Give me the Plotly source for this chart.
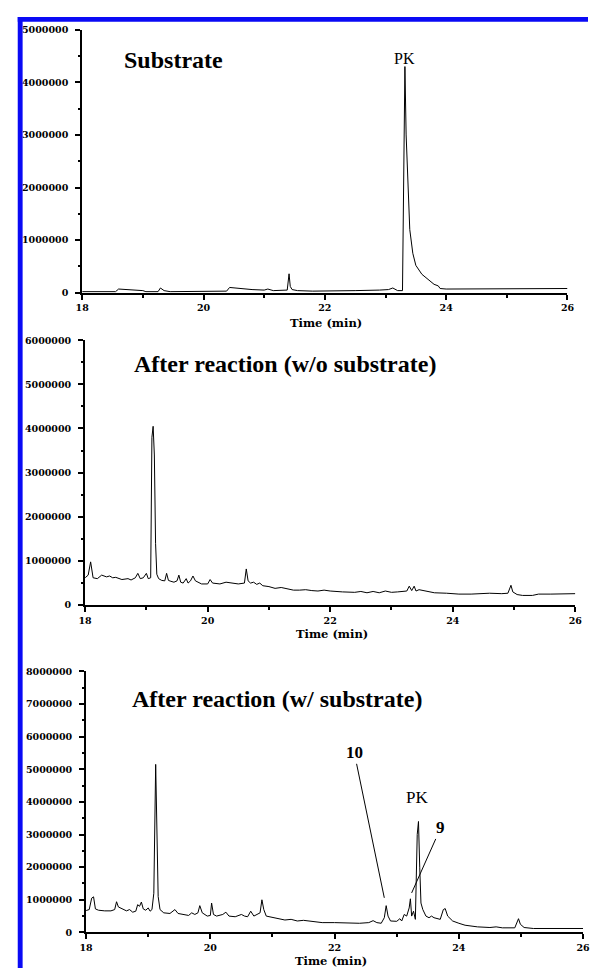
import plotly.graph_objects as go

# ---------------- data ----------------
t_sub = [18.0, 18.3, 18.55, 18.6, 18.8, 19.0, 19.05, 19.25, 19.29, 19.35, 19.45, 19.8, 20.2, 20.38, 20.43,
         20.6, 20.8, 21.0, 21.06, 21.15, 21.3, 21.38, 21.41, 21.43, 21.46, 21.55, 21.8, 22.0, 22.5,
         22.9, 23.05, 23.12, 23.2, 23.28, 23.3, 23.32, 23.34, 23.36, 23.38, 23.4, 23.45, 23.5, 23.6,
         23.7, 23.8, 23.87, 23.9, 24.0, 24.5, 25.0, 25.5, 26.0]
y_sub = [2e4, 2e4, 2e4, 7e4, 6e4, 4e4, 2e4, 2e4, 9e4, 4e4, 2e4, 2e4, 2e4, 3e4, 1.0e5,
         8e4, 6e4, 5e4, 7e4, 4e4, 4e4, 5e4, 3.6e5, 1.2e5, 6e4, 4e4, 3e4, 3e4, 4e4,
         5e4, 6e4, 9e4, 4e4, 4e4, 1.95e6, 4.3e6, 3.0e6, 2.3e6, 1.7e6, 1.2e6, 7.5e5, 5.2e5, 3.5e5,
         2.5e5, 1.6e5, 1.3e5, 8e4, 7e4, 7e4, 7e4, 8e4, 8e4]

t_wo = [18.0, 18.05, 18.09, 18.11, 18.13, 18.2, 18.27, 18.35, 18.4, 18.45, 18.5, 18.6, 18.7, 18.75,
        18.82, 18.86, 18.9, 18.95, 19.0, 19.03, 19.07, 19.09, 19.11, 19.13, 19.15, 19.17, 19.2,
        19.25, 19.3, 19.33, 19.36, 19.4, 19.45, 19.5, 19.53, 19.56, 19.6, 19.65, 19.68, 19.72,
        19.76, 19.8, 19.9, 20.0, 20.04, 20.08, 20.2, 20.3, 20.4, 20.5, 20.6, 20.63, 20.66, 20.7,
        20.75, 20.8, 20.85, 20.9, 21.0, 21.1, 21.2, 21.3, 21.4, 21.5, 21.6, 21.7, 21.8, 21.9,
        22.0, 22.2, 22.4, 22.5, 22.6, 22.7, 22.8, 22.9, 23.0, 23.1, 23.25, 23.29, 23.33, 23.37,
        23.4, 23.45, 23.55, 23.7, 23.9, 24.1, 24.3, 24.6, 24.8, 24.9, 24.95, 24.98, 25.05, 25.14,
        25.3, 25.4, 25.6, 25.8, 26.0]
y_wo = [6.2e5, 6.8e5, 9.8e5, 7.5e5, 6.2e5, 6.0e5, 6.8e5, 6.4e5, 6.6e5, 6.2e5, 6.3e5, 5.8e5, 6.0e5, 5.7e5,
        6.2e5, 7.2e5, 6.0e5, 6.2e5, 7.2e5, 6.0e5, 6.2e5, 3.8e6, 4.05e6, 3.4e6, 1.4e6, 7.0e5, 6.0e5,
        5.6e5, 5.5e5, 7.2e5, 5.6e5, 5.4e5, 5.2e5, 5.5e5, 6.8e5, 5.2e5, 5.0e5, 6.0e5, 5.0e5, 5.5e5,
        6.6e5, 5.5e5, 4.8e5, 4.8e5, 5.8e5, 5.0e5, 4.8e5, 5.2e5, 5.0e5, 4.8e5, 5.0e5, 8.2e5, 5.5e5, 5.0e5,
        5.2e5, 4.7e5, 5.0e5, 4.4e5, 4.2e5, 3.8e5, 4.0e5, 3.7e5, 3.4e5, 3.4e5, 3.5e5, 3.3e5, 3.2e5, 3.4e5,
        3.2e5, 3.0e5, 2.9e5, 3.1e5, 2.8e5, 3.1e5, 2.8e5, 3.2e5, 2.9e5, 3.0e5, 3.2e5, 4.3e5, 3.3e5, 4.3e5,
        3.2e5, 3.5e5, 3.2e5, 2.8e5, 2.7e5, 2.5e5, 2.5e5, 2.7e5, 2.6e5, 2.7e5, 4.5e5, 3.0e5, 2.4e5, 2.2e5,
        2.2e5, 2.5e5, 2.5e5, 2.5e5, 2.6e5]

t_w = [18.0, 18.05, 18.09, 18.12, 18.15, 18.2, 18.3, 18.4, 18.46, 18.49, 18.52, 18.56, 18.6, 18.65,
       18.7, 18.75, 18.8, 18.83, 18.86, 18.89, 18.92, 18.96, 19.0, 19.03, 19.06, 19.09, 19.12, 19.14,
       19.16, 19.19, 19.25, 19.35, 19.43, 19.48, 19.55, 19.65, 19.7, 19.75, 19.8, 19.83, 19.87, 19.95,
       20.0, 20.02, 20.05, 20.1, 20.2, 20.25, 20.3, 20.4, 20.5, 20.55, 20.6, 20.65, 20.7, 20.75, 20.8,
       20.83, 20.86, 20.9, 21.0, 21.1, 21.2, 21.3, 21.4, 21.5, 21.6, 21.8, 22.0, 22.2, 22.4, 22.55,
       22.62, 22.68, 22.75, 22.8, 22.83, 22.86, 22.9, 23.0, 23.05, 23.08, 23.12, 23.16, 23.2, 23.22,
       23.24, 23.27, 23.3, 23.33, 23.35, 23.37, 23.39, 23.42, 23.47, 23.52, 23.56, 23.6, 23.7, 23.75,
       23.78, 23.82, 23.9, 24.0, 24.1, 24.3, 24.5, 24.6, 24.7, 24.9, 24.94, 24.96, 24.99, 25.05,
       25.2, 25.5, 26.0]
y_w = [6.7e5, 7.0e5, 1.05e6, 1.09e6, 7.2e5, 6.8e5, 6.6e5, 6.6e5, 7.0e5, 9.4e5, 7.8e5, 7.5e5, 7.2e5, 6.6e5,
       7.0e5, 6.2e5, 6.5e5, 8.5e5, 8.0e5, 9.3e5, 7.2e5, 6.8e5, 7.5e5, 6.5e5, 7.0e5, 1.2e6, 5.15e6, 3.4e6,
       1.1e6, 7.0e5, 6.0e5, 5.8e5, 7.0e5, 5.8e5, 5.5e5, 5.2e5, 6.0e5, 5.5e5, 6.0e5, 8.2e5, 6.0e5, 5.0e5,
       5.2e5, 9.0e5, 5.5e5, 5.0e5, 5.5e5, 6.2e5, 5.0e5, 4.8e5, 5.5e5, 5.0e5, 4.8e5, 6.5e5, 5.0e5, 5.5e5, 6.0e5,
       1.0e6, 7.0e5, 5.0e5, 4.6e5, 4.2e5, 3.8e5, 4.0e5, 3.5e5, 3.7e5, 3.4e5, 3.0e5, 3.0e5, 2.9e5, 2.8e5, 3.0e5,
       3.6e5, 3.0e5, 2.8e5, 4.5e5, 8.2e5, 5.0e5, 3.5e5, 3.4e5, 4.2e5, 3.5e5, 5.5e5, 5.0e5, 7.5e5, 1.03e6,
       5.0e5, 6.5e5, 4.0e5, 3.0e6, 3.4e6, 2.0e6, 9.0e5, 7.0e5, 5.0e5, 4.5e5, 5.0e5, 4.5e5, 4.0e5, 7.0e5,
       7.3e5, 5.0e5, 3.5e5, 2.8e5, 2.2e5, 1.7e5, 1.5e5, 1.7e5, 1.4e5, 1.4e5, 3.0e5, 4.2e5, 2.5e5, 1.5e5,
       1.2e5, 1.2e5, 1.2e5]

panel_titles = ["Substrate", "After reaction (w/o substrate)", "After reaction (w/ substrate)"]
y_max = [5e6, 6e6, 8e6]
x_range = [18, 26]
x_title = "Time (min)"
# labelled peaks in the last panel: (label, time, intensity at line end)
peak10 = ("10", 22.80, 1.06e6)
peak9 = ("9", 23.24, 1.21e6)

# ---------------- layout helpers ----------------
W, H = 595, 973
def px(x):
    return x / W
def py(y):
    return 1 - y / H

domains = [
    ([px(77), px(574)], [py(290), py(24)]),
    ([px(80), px(582)], [py(606), py(338)]),
    ([px(81), px(590)], [py(937), py(673)]),
]

fig = go.Figure()
series = [(t_sub, y_sub), (t_wo, y_wo), (t_w, y_w)]
for i, (tx, ty) in enumerate(series):
    sfx = "" if i == 0 else str(i + 1)
    fig.add_trace(go.Scatter(x=tx, y=ty, mode="lines", xaxis="x" + sfx, yaxis="y" + sfx,
                             line=dict(color="black", width=1), showlegend=False,
                             hoverinfo="skip"))

tickfont = dict(family="DejaVu Serif", size=9.5, color="black", weight="bold")
layout = dict(width=W, height=H, margin=dict(l=0, r=0, t=0, b=0),
              paper_bgcolor="white", plot_bgcolor="white", showlegend=False)
for i, (xd, yd) in enumerate(domains):
    sfx = "" if i == 0 else str(i + 1)
    layout["xaxis" + sfx] = dict(domain=xd, anchor="y" + sfx, range=x_range, tick0=18, dtick=2,
                                 ticks="outside", ticklen=5, tickwidth=1.5, tickcolor="black",
                                 minor=dict(dtick=1, ticks="outside", ticklen=3, tickwidth=1.5,
                                            tickcolor="black"),
                                 showline=True, linewidth=2, linecolor="black",
                                 showgrid=False, zeroline=False, tickfont=tickfont)
    layout["yaxis" + sfx] = dict(domain=yd, anchor="x" + sfx, range=[0, y_max[i]], tick0=0,
                                 dtick=1e6, tickformat="d",
                                 ticks="outside", ticklen=5, tickwidth=1.5, tickcolor="black",
                                 minor=dict(dtick=5e5, ticks="outside", ticklen=2, tickwidth=1.5,
                                            tickcolor="black"),
                                 showline=True, linewidth=2, linecolor="black",
                                 showgrid=False, zeroline=False, tickfont=tickfont,
                                 ticklabelstandoff=5)
fig.update_layout(**layout)

serif = "Liberation Serif"
title_pos = [(171, 55), (285, 362), (276, 701)]
xtitle_pos = [(327, 321), (333, 635), (332, 966)]
ann = []
for (tx, ty), txt in zip(title_pos, panel_titles):
    ann.append(dict(x=px(tx), y=py(ty), xref="paper", yref="paper", text=txt, showarrow=False,
                    xanchor="center", yanchor="middle",
                    font=dict(family=serif, size=24, color="black", weight="bold")))
for tx, ty in xtitle_pos:
    ann.append(dict(x=px(tx), y=py(ty), xref="paper", yref="paper", text=x_title, showarrow=False,
                    xanchor="center", yanchor="middle",
                    font=dict(family="DejaVu Serif", size=11.5, color="black", weight="bold")))
# PK labels
ann.append(dict(x=px(407), y=py(53), xref="paper", yref="paper", text="PK", showarrow=False,
                xanchor="center", yanchor="middle", font=dict(family=serif, size=16, color="black")))
ann.append(dict(x=px(420), y=py(801), xref="paper", yref="paper", text="PK", showarrow=False,
                xanchor="center", yanchor="middle", font=dict(family=serif, size=17, color="black")))
# numbered peaks with leader lines
for (lab, tx, ty), (ax, ay) in [(peak10, (-30, -145)), (peak9, (29, -65))]:
    ann.append(dict(x=tx, y=ty, xref="x3", yref="y3", text=lab, showarrow=True, arrowhead=0,
                    arrowwidth=1, arrowcolor="black", ax=ax, ay=ay,
                    font=dict(family=serif, size=17, color="black", weight="bold")))
fig.update_layout(annotations=ann)

# blue frame on the left and top
blue = "#0a0af5"
fig.add_shape(type="rect", xref="paper", yref="paper", x0=px(11), x1=px(16), y0=0, y1=py(11),
              fillcolor=blue, line=dict(width=0), layer="above")
fig.add_shape(type="rect", xref="paper", yref="paper", x0=px(11), x1=1, y0=py(16), y1=py(11),
              fillcolor=blue, line=dict(width=0), layer="above")

fig.write_html("out.html", config={"displayModeBar": False},
               post_script="document.body.style.margin='0';document.body.style.overflow='hidden';")
